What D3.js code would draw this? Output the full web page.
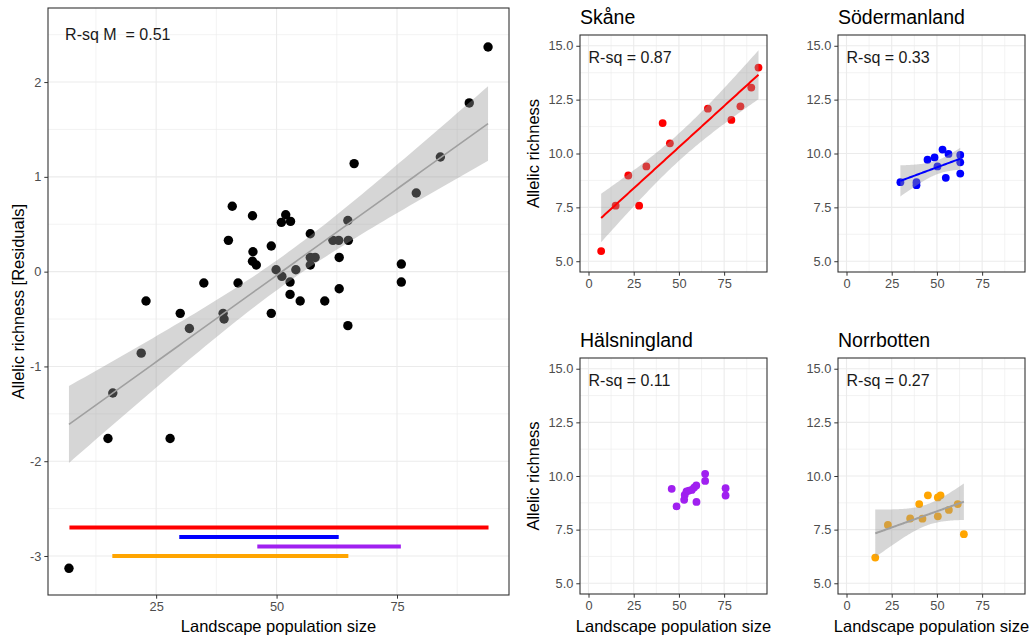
<!DOCTYPE html>
<html>
<head>
<meta charset="utf-8">
<script src="https://cdn.jsdelivr.net/npm/d3@7"></script>
<style>
  body { margin: 0; background: #fff; }
  text { font-family: "Liberation Sans", Arial, sans-serif; }
</style>
</head>
<body>
<svg width="1030" height="637"></svg>
<script>
// ---- data ----
const mainX = [93.9, 90.0, 84.0, 79.0, 66.1, 75.9, 75.9, 64.8, 64.9, 62.9, 61.7, 63.0, 63.0, 64.8,
    60.0, 57.0, 57.0, 58.0, 57.0, 54.9, 54.0, 52.8, 52.8, 51.9, 51.0, 52.9, 51.1, 49.9, 48.9, 48.9,
    45.0, 45.1, 45.0, 45.8, 42.0, 40.8, 40.0, 38.9, 39.1, 34.9, 31.9, 30.0, 22.9, 21.9, 16.0, 15.0, 27.9, 6.9];
const mainY = [2.37, 1.78, 1.21, 0.83, 1.14, 0.08, -0.11, 0.54, 0.33, 0.33, 0.33, 0.15, -0.18, -0.57,
    -0.31, 0.40, 0.15, 0.15, 0.07, -0.31, 0.02, -0.11, -0.24, 0.60, 0.52, 0.53, -0.05, 0.02, 0.27, -0.44,
    0.59, 0.21, 0.11, 0.07, -0.12, 0.69, 0.33, -0.44, -0.50, -0.12, -0.60, -0.44, -0.31, -0.86, -1.28, -1.76, -1.76, -3.13];
const mainLabel = 'R-sq M  = 0.51';

const regions = ['Skåne', 'Södermanland', 'Hälsningland', 'Norrbotten'];
const regionColors = ['#ff0000', '#0000ff', '#a020f0', '#ffa500'];
const regionRsq = ['0.87', '0.33', '0.11', '0.27'];
const fitColors = ['#ff0000', '#0000ff', null, '#a0a0a0'];   // no fit for Hälsningland
const rangeLevels = [-2.7, -2.8, -2.9, -3.0];                 // y of the range bars in main panel

const skaneX = [7, 15, 22, 28, 32, 41, 45, 66, 79, 84, 90, 94];
const skaneY = [5.47, 7.58, 8.98, 7.58, 9.40, 11.41, 10.47, 12.08, 11.56, 12.19, 13.06, 13.99];
const sodX = [29.8, 38.7, 38.7, 44.8, 48.7, 50.3, 53.1, 54.9, 56.4, 62.9, 62.9, 62.9];
const sodY = [8.67, 8.67, 8.53, 9.71, 9.82, 9.40, 10.18, 8.87, 9.98, 9.93, 9.59, 9.07];
const halX = [46.0, 48.7, 52.9, 53.2, 54.2, 55.6, 57.1, 58.4, 59.6, 59.7, 64.5, 64.5, 75.8, 75.8];
const halY = [9.40, 8.58, 8.89, 9.12, 9.28, 9.32, 9.35, 9.46, 9.56, 8.79, 10.10, 9.77, 9.43, 9.09];
const norX = [15.9, 22.9, 35.2, 40.2, 42.0, 45.0, 50.5, 52.0, 50.5, 56.6, 61.5, 64.9];
const norY = [6.20, 7.72, 8.02, 8.69, 8.01, 9.10, 9.00, 9.10, 8.12, 8.42, 8.69, 7.29];
const regionX = [skaneX, sodX, halX, norX];
const regionY = [skaneY, sodY, halY, norY];

const mainXTicks = [25, 50, 75];
const mainYTicks = [-3, -2, -1, 0, 1, 2];
const smallXTicks = [0, 25, 50, 75];
const smallYTicks = [5, 7.5, 10, 12.5, 15];
const smallYLimits = [5, 15];

// ---- helpers ----
var svg = d3.select('svg');

function expand(ext) {
    var d = (ext[1] - ext[0]) * 0.05;
    return [ext[0] - d, ext[1] + d];
}

// t quantile (0.975) by Cornish-Fisher expansion
function tq(df) {
    var z = 1.959964;
    return z + (z**3 + z) / (4*df) + (5*z**5 + 16*z**3 + 3*z) / (96*df*df)
        + (3*z**7 + 19*z**5 + 17*z**3 - 15*z) / (384*df**3);
}

// lm fit with 95% confidence band, like geom_smooth(method = "lm")
function fitLm(xs, ys) {
    var n = xs.length, mx = d3.mean(xs), my = d3.mean(ys);
    var sxx = d3.sum(xs, x => (x - mx) ** 2);
    var b = d3.sum(xs, (x, i) => (x - mx) * (ys[i] - my)) / sxx;
    var a = my - b * mx;
    var s = Math.sqrt(d3.sum(xs, (x, i) => (ys[i] - a - b * x) ** 2) / (n - 2));
    var t = tq(n - 2);
    var ext = d3.extent(xs);
    return d3.range(81).map(i => {
        var x = ext[0] + (ext[1] - ext[0]) * i / 80;
        var y = a + b * x;
        var se = s * Math.sqrt(1 / n + (x - mx) ** 2 / sxx);
        return {x: x, y: y, lo: y - t * se, hi: y + t * se};
    });
}

function panel(box, xDom, yDom, xTicks, yTicks, yFmt) {
    var x = d3.scaleLinear().domain(xDom).range([box.x, box.x + box.w]);
    var y = d3.scaleLinear().domain(yDom).range([box.y + box.h, box.y]);
    var g = svg.append('g');

    var step = (a) => a[1] - a[0];
    var minorX = xTicks.slice(0, -1).map((v, i) => (v + xTicks[i + 1]) / 2);
    minorX.unshift(xTicks[0] - step(xTicks) / 2);
    minorX.push(xTicks[xTicks.length - 1] + step(xTicks) / 2);
    var minorY = yTicks.slice(0, -1).map((v, i) => (v + yTicks[i + 1]) / 2);
    minorY.unshift(yTicks[0] - step(yTicks) / 2);
    minorY.push(yTicks[yTicks.length - 1] + step(yTicks) / 2);
    var inX = v => v >= xDom[0] && v <= xDom[1];
    var inY = v => v >= yDom[0] && v <= yDom[1];

    var grid = g.append('g').attr('stroke', '#ebebeb');
    grid.selectAll('.mx').data(minorX.filter(inX)).enter().append('line')
        .attr('x1', x).attr('x2', x).attr('y1', box.y).attr('y2', box.y + box.h).attr('stroke-width', 0.6);
    grid.selectAll('.my').data(minorY.filter(inY)).enter().append('line')
        .attr('y1', y).attr('y2', y).attr('x1', box.x).attr('x2', box.x + box.w).attr('stroke-width', 0.6);
    grid.selectAll('.gx').data(xTicks).enter().append('line')
        .attr('x1', x).attr('x2', x).attr('y1', box.y).attr('y2', box.y + box.h).attr('stroke-width', 1.1);
    grid.selectAll('.gy').data(yTicks).enter().append('line')
        .attr('y1', y).attr('y2', y).attr('x1', box.x).attr('x2', box.x + box.w).attr('stroke-width', 1.1);

    var xa = g.append('g').attr('transform', `translate(0,${box.y + box.h})`)
        .call(d3.axisBottom(x).tickValues(xTicks).tickSize(3.7).tickPadding(3).tickFormat(d => String(d)));
    var ya = g.append('g').attr('transform', `translate(${box.x},0)`)
        .call(d3.axisLeft(y).tickValues(yTicks).tickSize(3.7).tickPadding(3).tickFormat(yFmt));
    [xa, ya].forEach(a => {
        a.select('.domain').remove();
        a.selectAll('line').attr('stroke', '#333');
        a.selectAll('text').attr('fill', '#4d4d4d').style('font-size', '12.8px')
            .style('font-family', '"Liberation Sans", Arial, sans-serif');
    });

    var plot = g.append('g');
    g.append('rect').attr('x', box.x).attr('y', box.y).attr('width', box.w).attr('height', box.h)
        .attr('fill', 'none').attr('stroke', '#333').attr('stroke-width', 1.1);
    return {x: x, y: y, g: plot};
}

function drawFit(p, fit, color, width) {
    p.g.append('path').datum(fit)
        .attr('d', d3.area().x(d => p.x(d.x)).y0(d => p.y(d.lo)).y1(d => p.y(d.hi)))
        .attr('fill', '#999').attr('fill-opacity', 0.4);
    p.g.append('path').datum(fit)
        .attr('d', d3.line().x(d => p.x(d.x)).y(d => p.y(d.y)))
        .attr('fill', 'none').attr('stroke', color).attr('stroke-width', width);
}

// ---- main panel ----
var mainBox = {x: 48, y: 8, w: 461, h: 587};
var labelPos = [6.1, 2.5];
var main = panel(mainBox, expand(d3.extent(mainX)), expand([d3.min(mainY), labelPos[1]]),
    mainXTicks, mainYTicks, d => String(d));

main.g.selectAll('circle').data(mainX).enter().append('circle')
    .attr('cx', d => main.x(d)).attr('cy', (d, i) => main.y(mainY[i]))
    .attr('r', 4.7).attr('fill', '#000');
drawFit(main, fitLm(mainX, mainY), '#a0a0a0', 1.6);

regions.forEach((r, i) => {
    var ext = d3.extent(regionX[i]);
    main.g.append('line')
        .attr('x1', main.x(ext[0])).attr('x2', main.x(ext[1]))
        .attr('y1', main.y(rangeLevels[i])).attr('y2', main.y(rangeLevels[i]))
        .attr('stroke', regionColors[i]).attr('stroke-width', 4);
});

main.g.append('text').attr('x', main.x(labelPos[0])).attr('y', main.y(labelPos[1]))
    .attr('dy', '0.36em').style('font-size', '16px').style('white-space', 'pre')
    .attr('fill', '#1a1a1a').text(mainLabel);

svg.append('text').attr('transform', `translate(18,${mainBox.y + mainBox.h / 2}) rotate(-90)`)
    .attr('text-anchor', 'middle').attr('dy', '0.35em').style('font-size', '16.5px')
    .text('Allelic richness [Residuals]');
svg.append('text').attr('x', mainBox.x + mainBox.w / 2).attr('y', 632)
    .attr('text-anchor', 'middle').style('font-size', '16.5px').text('Landscape population size');

// ---- regional panels ----
var boxes = [
    {x: 580, y: 35, w: 187, h: 237},
    {x: 838, y: 35, w: 187, h: 237},
    {x: 580, y: 358, w: 187, h: 236},
    {x: 838, y: 358, w: 187, h: 236}
];
var smallXDom = expand([0, d3.max(regionX, a => d3.max(a))]);
var smallYDom = expand(smallYLimits);

regions.forEach((r, i) => {
    var b = boxes[i];
    var p = panel(b, smallXDom, smallYDom, smallXTicks, smallYTicks, d3.format('.1f'));
    p.g.selectAll('circle').data(regionX[i]).enter().append('circle')
        .attr('cx', d => p.x(d)).attr('cy', (d, j) => p.y(regionY[i][j]))
        .attr('r', 3.9).attr('fill', regionColors[i]);
    if (fitColors[i]) drawFit(p, fitLm(regionX[i], regionY[i]), fitColors[i], 2);

    p.g.append('text').attr('x', p.x(0)).attr('y', p.y(14.45)).attr('dy', '0.36em')
        .style('font-size', '16px').attr('fill', '#1a1a1a').text('R-sq = ' + regionRsq[i]);

    svg.append('text').attr('x', b.x).attr('y', b.y - 11).style('font-size', '19.5px')
        .attr('fill', '#000').text(r);

    if (i % 2 == 0)
        svg.append('text').attr('transform', `translate(533,${b.y + b.h / 2}) rotate(-90)`)
            .attr('text-anchor', 'middle').attr('dy', '0.35em').style('font-size', '16.5px')
            .text('Allelic richness');
    if (i >= 2)
        svg.append('text').attr('x', b.x + b.w / 2).attr('y', 632)
            .attr('text-anchor', 'middle').style('font-size', '16.5px').text('Landscape population size');
});
</script>
</body>
</html>
